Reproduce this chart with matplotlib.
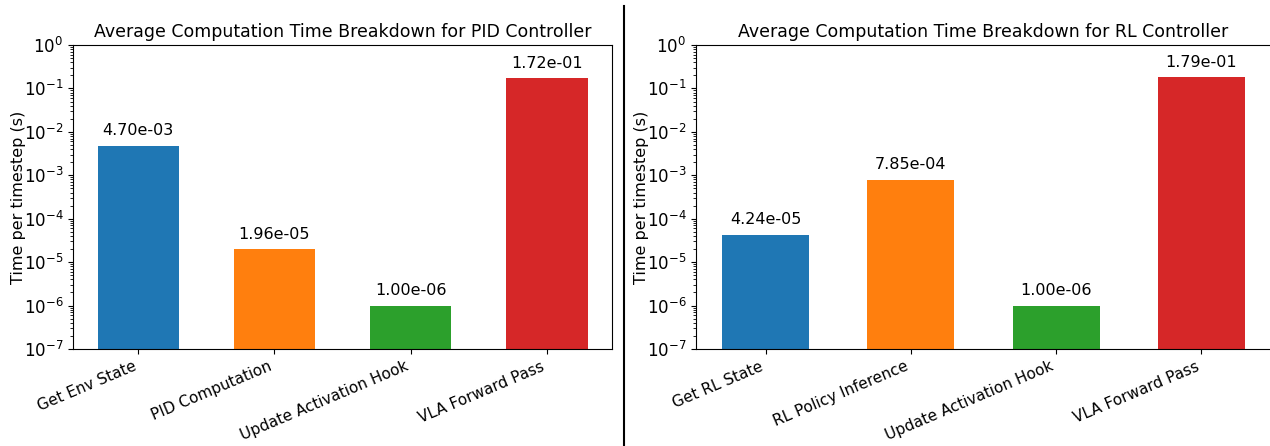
import matplotlib
matplotlib.use("Agg")
import matplotlib.pyplot as plt
from matplotlib.lines import Line2D

pid_categories = ["Get Env State", "PID Computation", "Update Activation Hook", "VLA Forward Pass"]
pid_values = [4.70e-03, 1.96e-05, 1.00e-06, 1.72e-01]
rl_categories = ["Get RL State", "RL Policy Inference", "Update Activation Hook", "VLA Forward Pass"]
rl_values = [4.24e-05, 7.85e-04, 1.00e-06, 1.79e-01]
colors = ["#1f77b4", "#ff7f0e", "#2ca02c", "#d62728"]
titles = ["Average Computation Time Breakdown for PID Controller",
          "Average Computation Time Breakdown for RL Controller"]

W, H = 1270, 446
fig = plt.figure(figsize=(W / 100, H / 100), dpi=100)

def box(l, r, t, b):
    return [l / W, (H - b) / H, (r - l) / W, (b - t) / H]

ax1 = fig.add_axes(box(73, 612, 45, 349))
ax2 = fig.add_axes(box(696, 1271, 45, 349))

for ax, cats, vals, title in [(ax1, pid_categories, pid_values, titles[0]),
                              (ax2, rl_categories, rl_values, titles[1])]:
    x = list(range(len(cats)))
    ax.bar(x, vals, width=0.6, color=colors)
    ax.set_yscale("log")
    ax.set_ylim(1e-7, 1)
    ax.set_xticks(x)
    ax.set_xticklabels(cats, rotation=23, ha="right", fontsize=11)
    ax.tick_params(axis="y", labelsize=12)
    ax.set_ylabel("Time per timestep (s)", fontsize=11.5, labelpad=-2)
    ax.set_title(title, fontsize=12.5)
    for xi, v in zip(x, vals):
        ax.text(xi, v * 1.5, f"{v:.2e}", ha="center", va="bottom", fontsize=11.5)

fig.add_artist(Line2D([624 / W, 624 / W], [0, (H - 6) / H], color="black", linewidth=1.5,
                      transform=fig.transFigure))

fig.savefig("out.png", dpi=100)
